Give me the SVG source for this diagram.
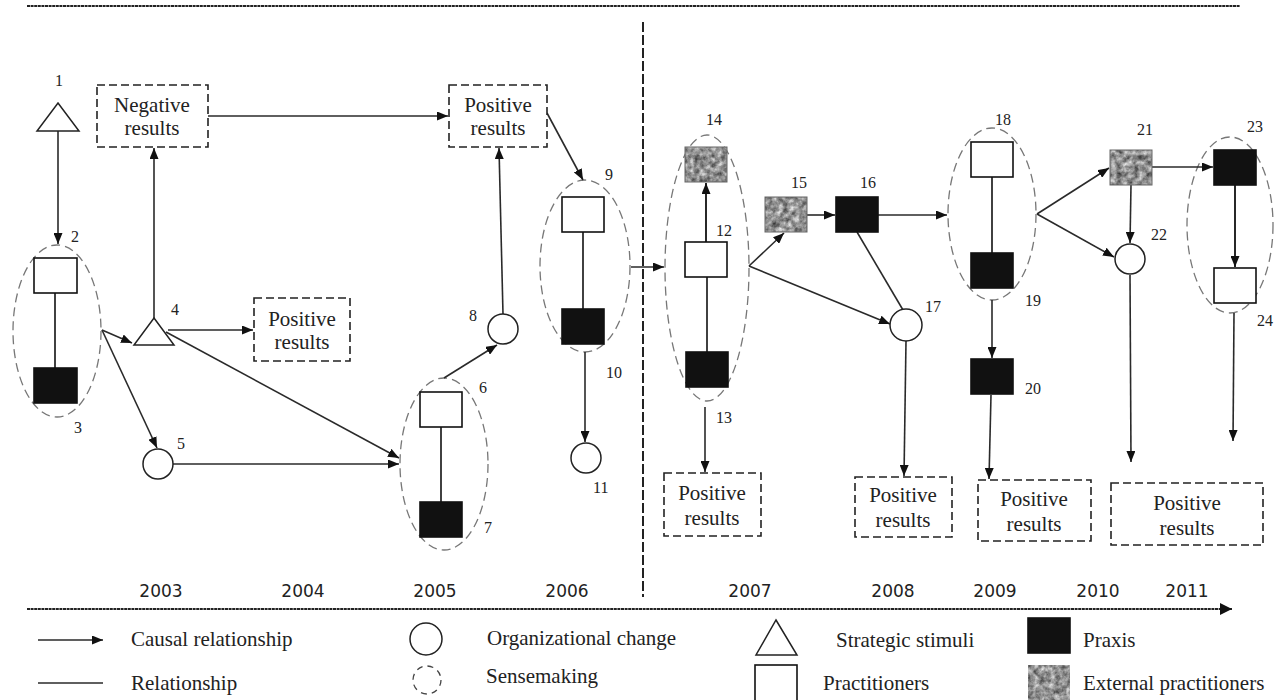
<svg xmlns="http://www.w3.org/2000/svg" width="1282" height="700" viewBox="0 0 1282 700">
<style>
.bg{fill:#fff}
.sqw{fill:#fff;stroke:#111;stroke-width:1.6}
.sqb{fill:#111;stroke:#111;stroke-width:1.6}
.sqg{fill:#111;filter:url(#grain)}
.sqgb{fill:none;stroke:#666;stroke-width:1}
.circ{fill:#fff;stroke:#222;stroke-width:1.5}
.tri{fill:#fff;stroke:#222;stroke-width:1.5}
.ell{fill:none;stroke:#777;stroke-width:1.3;stroke-dasharray:9 5}
.box{fill:#fff;stroke:#222;stroke-width:1.6;stroke-dasharray:8 4}
.arr{fill:none;stroke:#2a2a2a;stroke-width:1.6;marker-end:url(#ah)}
.lnd{fill:none;stroke:#2a2a2a;stroke-width:1.6}
.sarr{fill:none;stroke:#111;stroke-width:1.8;marker-end:url(#ah)}
.rel{fill:none;stroke:#111;stroke-width:1.6}
.lbl{font-family:"Liberation Serif",serif;font-size:16px;fill:#222}
.bt{font-family:"Liberation Serif",serif;font-size:21px;fill:#222;text-anchor:middle}
.lt{font-family:"Liberation Serif",serif;font-size:21px;fill:#222}
.yr{font-family:"DejaVu Sans",sans-serif;font-size:17px;fill:#222;text-anchor:middle}
</style>
<defs>
<marker id="ah" viewBox="0 0 11 9" refX="11" refY="4.5" markerWidth="11" markerHeight="9" markerUnits="userSpaceOnUse" orient="auto">
<path d="M0,0 L11,4.5 L0,9 Z" fill="#111"/>
</marker>
<marker id="ahbig" viewBox="0 0 12 12" refX="12" refY="6" markerWidth="12" markerHeight="12" markerUnits="userSpaceOnUse" orient="auto">
<path d="M0,0 L12,6 L0,12 Z" fill="#111"/>
</marker>
<filter id="grain" x="0" y="0" width="100%" height="100%" color-interpolation-filters="sRGB">
<feTurbulence type="fractalNoise" baseFrequency="0.18" numOctaves="3" seed="4" result="n"/>
<feColorMatrix in="n" type="matrix" values="0.9 0 0 0 0.12  0.9 0 0 0 0.12  0.9 0 0 0 0.12  0 0 0 0 1" result="g"/>
<feComposite in="g" in2="SourceGraphic" operator="in"/>
</filter>
</defs>
<rect class="bg" x="0" y="0" width="1282" height="700"/>

<g id="frame">
<line x1="27" y1="6" x2="1240" y2="6" stroke="#222" stroke-width="2.2" stroke-dasharray="3 0.6"/>
<line x1="643" y1="22" x2="643" y2="597" stroke="#222" stroke-width="2" stroke-dasharray="10 3"/>
<line x1="27" y1="609" x2="1232" y2="609" stroke="#222" stroke-width="2.2" stroke-dasharray="3 0.6" marker-end="url(#ahbig)"/>
</g>

<g id="years">
<text class="yr" x="161" y="597">2003</text>
<text class="yr" x="303" y="597">2004</text>
<text class="yr" x="435" y="597">2005</text>
<text class="yr" x="567" y="597">2006</text>
<text class="yr" x="750" y="597">2007</text>
<text class="yr" x="893" y="597">2008</text>
<text class="yr" x="995" y="597">2009</text>
<text class="yr" x="1098" y="597">2010</text>
<text class="yr" x="1187" y="597">2011</text>
</g>

<g id="ellipses">
<ellipse class="ell" cx="57" cy="331" rx="44" ry="86"/>
<ellipse class="ell" cx="444" cy="464" rx="44" ry="86"/>
<ellipse class="ell" cx="585" cy="266" rx="45" ry="86"/>
<ellipse class="ell" cx="707" cy="268" rx="42" ry="133"/>
<ellipse class="ell" cx="992" cy="214" rx="44" ry="86"/>
<ellipse class="ell" cx="1230" cy="225" rx="43" ry="88"/>
</g>

<g id="connectors">
<path class="arr" d="M58,131 L58,244"/>
<path class="arr" d="M154,318 L154,148"/>
<path class="arr" d="M208,116 L448,116"/>
<path class="arr" d="M547,113 L583,180"/>
<path class="arr" d="M102,330 L132,343"/>
<path class="arr" d="M102,330 L157,448"/>
<path class="arr" d="M168,330 L253,330"/>
<path class="arr" d="M166,332 L399,458"/>
<path class="arr" d="M173,464 L399,464"/>
<path class="arr" d="M444,378 L497,345"/>
<path class="arr" d="M503,314 L499,148"/>
<path class="arr" d="M585,352 L585,442"/>
<path class="arr" d="M631,267 L664,267"/>
<path class="sarr" d="M706,242 L706,183"/>
<path class="arr" d="M705,407 L705,472"/>
<path class="arr" d="M749,266 L784,233"/>
<path class="arr" d="M749,266 L890,324"/>
<path class="arr" d="M807,215 L835,215"/>
<path class="arr" d="M878,215 L947,215"/>
<path class="lnd" d="M857,232 L903,310"/>
<path class="arr" d="M906,341 L904,476"/>
<path class="arr" d="M992,300 L992,358"/>
<path class="arr" d="M991,395 L989,479"/>
<path class="arr" d="M1037,214 L1109,168"/>
<path class="arr" d="M1037,214 L1114,257"/>
<path class="arr" d="M1131,185 L1130,243"/>
<path class="arr" d="M1152,167 L1213,167"/>
<path class="arr" d="M1130,275 L1131,462"/>
<path class="sarr" d="M1235,185 L1235,267"/>
<path class="arr" d="M1234,313 L1233,441"/>
<path class="rel" d="M55,293 L55,368"/>
<path class="rel" d="M441,427 L441,502"/>
<path class="rel" d="M583,232 L583,309"/>
<path class="rel" d="M707,277 L707,352"/>
<path class="rel" d="M992,177 L992,253"/>
</g>

<g id="n1"><polygon class="tri" points="58,103 79,131 37,131"/><text class="lbl" x="59" y="86" text-anchor="middle">1</text></g>
<g id="n2"><rect class="sqw" x="34" y="258" width="43" height="35"/><text class="lbl" x="71" y="242">2</text></g>
<g id="n3"><rect class="sqb" x="34" y="368" width="43" height="35"/><text class="lbl" x="74" y="433">3</text></g>
<g id="n4"><polygon class="tri" points="154,318 174,345 134,345"/><text class="lbl" x="171" y="315">4</text></g>
<g id="n5"><circle class="circ" cx="158" cy="464" r="15"/><text class="lbl" x="177" y="449">5</text></g>
<g id="n6"><rect class="sqw" x="420" y="392" width="42" height="35"/><text class="lbl" x="479" y="393">6</text></g>
<g id="n7"><rect class="sqb" x="420" y="502" width="42" height="35"/><text class="lbl" x="484" y="533">7</text></g>
<g id="n8"><circle class="circ" cx="503" cy="329" r="15"/><text class="lbl" x="469" y="321">8</text></g>
<g id="n9"><rect class="sqw" x="562" y="197" width="42" height="35"/><text class="lbl" x="605" y="180">9</text></g>
<g id="n10"><rect class="sqb" x="562" y="309" width="42" height="35"/><text class="lbl" x="606" y="378">10</text></g>
<g id="n11"><circle class="circ" cx="586" cy="458" r="15"/><text class="lbl" x="593" y="493">11</text></g>
<g id="n12"><rect class="sqw" x="685" y="242" width="42" height="35"/><text class="lbl" x="716" y="236">12</text></g>
<g id="n13"><rect class="sqb" x="686" y="352" width="42" height="35"/><text class="lbl" x="716" y="423">13</text></g>
<g id="n14"><rect class="sqg" x="685" y="147" width="42" height="35"/><rect class="sqgb" x="685" y="147" width="42" height="35"/><text class="lbl" x="706" y="125">14</text></g>
<g id="n15"><rect class="sqg" x="765" y="197" width="42" height="35"/><rect class="sqgb" x="765" y="197" width="42" height="35"/><text class="lbl" x="791" y="188">15</text></g>
<g id="n16"><rect class="sqb" x="836" y="197" width="42" height="35"/><text class="lbl" x="860" y="188">16</text></g>
<g id="n17"><circle class="circ" cx="906" cy="325" r="16"/><text class="lbl" x="925" y="312">17</text></g>
<g id="n18"><rect class="sqw" x="971" y="142" width="42" height="35"/><text class="lbl" x="995" y="125">18</text></g>
<g id="n19"><rect class="sqb" x="971" y="253" width="42" height="35"/><text class="lbl" x="1025" y="306">19</text></g>
<g id="n20"><rect class="sqb" x="971" y="359" width="42" height="35"/><text class="lbl" x="1025" y="394">20</text></g>
<g id="n21"><rect class="sqg" x="1110" y="150" width="42" height="35"/><rect class="sqgb" x="1110" y="150" width="42" height="35"/><text class="lbl" x="1137" y="135">21</text></g>
<g id="n22"><circle class="circ" cx="1130" cy="259" r="15"/><text class="lbl" x="1151" y="240">22</text></g>
<g id="n23"><rect class="sqb" x="1214" y="150" width="42" height="35"/><text class="lbl" x="1247" y="132">23</text></g>
<g id="n24"><rect class="sqw" x="1214" y="268" width="42" height="35"/><text class="lbl" x="1257" y="326">24</text></g>

<g id="negTop"><rect class="box" x="97" y="85" width="111" height="62"/><text class="bt" x="152" y="112">Negative</text><text class="bt" x="152" y="135">results</text></g>
<g id="posTop"><rect class="box" x="449" y="85" width="98" height="62"/><text class="bt" x="498" y="112">Positive</text><text class="bt" x="498" y="135">results</text></g>
<g id="posMid"><rect class="box" x="254" y="298" width="96" height="63"/><text class="bt" x="302" y="326">Positive</text><text class="bt" x="302" y="349">results</text></g>
<g id="pos2007"><rect class="box" x="664" y="473" width="97" height="63"/><text class="bt" x="712" y="500">Positive</text><text class="bt" x="712" y="525">results</text></g>
<g id="pos2008"><rect class="box" x="855" y="477" width="97" height="60"/><text class="bt" x="903" y="502">Positive</text><text class="bt" x="903" y="527">results</text></g>
<g id="pos2009"><rect class="box" x="978" y="480" width="113" height="61"/><text class="bt" x="1034" y="506">Positive</text><text class="bt" x="1034" y="531">results</text></g>
<g id="pos2010"><rect class="box" x="1111" y="483" width="152" height="62"/><text class="bt" x="1187" y="510">Positive</text><text class="bt" x="1187" y="535">results</text></g>

<g id="legend">
<line x1="38" y1="640" x2="103" y2="640" class="arr"/>
<text class="lt" x="131" y="646">Causal relationship</text>
<line x1="38" y1="683" x2="103" y2="683" class="lnd"/>
<text class="lt" x="131" y="690">Relationship</text>
<circle class="circ" cx="426" cy="639" r="16"/>
<text class="lt" x="487" y="645">Organizational change</text>
<circle cx="427" cy="680" r="14" fill="none" stroke="#444" stroke-width="1.3" stroke-dasharray="6 5"/>
<text class="lt" x="486" y="683">Sensemaking</text>
<polygon class="tri" points="776,620 797,655 756,655"/>
<text class="lt" x="836" y="647">Strategic stimuli</text>
<rect class="sqw" x="755" y="665" width="42" height="36"/>
<text class="lt" x="823" y="690">Practitioners</text>
<rect class="sqb" x="1028" y="618" width="42" height="35"/>
<text class="lt" x="1083" y="647">Praxis</text>
<rect class="sqg" x="1028" y="665" width="42" height="36"/>
<text class="lt" x="1083" y="690">External practitioners</text>
</g>
</svg>
